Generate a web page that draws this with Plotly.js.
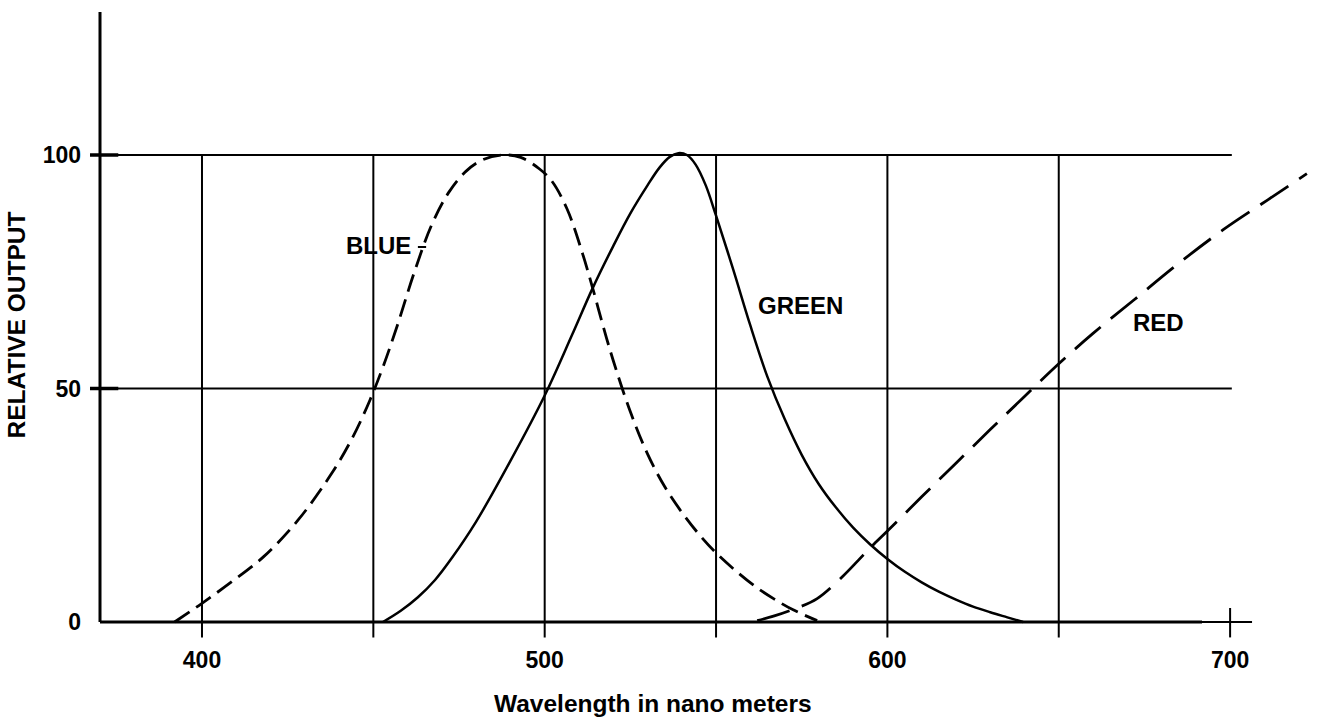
<!DOCTYPE html>
<html>
<head>
<meta charset="utf-8">
<script src="https://cdn.plot.ly/plotly-3.0.1.min.js"></script>
<style>html,body{margin:0;padding:0;background:#fff;}#chart{width:1319px;height:728px;}</style>
</head>
<body>
<div id="chart"></div>
<script>
// ---- data ----
const xTickVals = [400, 500, 600, 700];
const xTickText = ["400", "500", "600", "700"];
const yTickVals = [0, 50, 100];
const yTickText = ["0", "50", "100"];
const gridX = [400, 450, 500, 550, 600, 650];
const gridY = [50, 100];

const blueX = [392, 400, 409, 418, 428, 438, 444, 449, 453, 457, 462, 467, 472, 477, 482, 488, 493, 498.5, 502, 506.5, 511, 514, 517, 520, 525, 530, 535, 540, 545, 550, 556, 562, 567, 572.5, 579.5];
const blueY = [0, 4, 8.8, 14, 21.8, 32, 39.6, 47.5, 55, 63.5, 75, 85, 92, 96.5, 99, 100, 99.5, 97, 94.5, 88.5, 79, 71.5, 63.5, 56, 45, 36, 29, 23.5, 18.8, 14.8, 10.8, 7.3, 4.9, 2.6, 0.3];

const greenX = [452.8, 458, 463, 468, 473, 480, 490, 500, 508, 514, 520, 525, 530, 533.5, 536.5, 539, 541.5, 544, 547, 550, 555, 560, 565, 570, 575, 580, 585, 590, 595, 600, 605, 610, 615, 620, 625, 630, 635, 639.6];
const greenY = [0, 2.4, 5.3, 9.0, 13.8, 21.5, 34.5, 48.5, 61.5, 71.5, 80.5, 87.5, 93.5, 97.3, 99.6, 100.4, 100.0, 98.0, 93.5, 87, 75.5, 63.5, 52.5, 43.5, 35.8, 29.5, 24.5, 20.2, 16.6, 13.5, 10.8, 8.5, 6.5, 4.8, 3.3, 2.1, 1.0, 0];

const redX = [562, 567, 572.5, 579.5, 587, 591.5, 595, 600, 610, 620, 630, 640, 650, 660, 672, 685, 698, 711, 722.4];
const redY = [0.3, 1.3, 2.7, 5.0, 9.8, 13.2, 15.9, 19.5, 26.8, 34.0, 41.2, 48.3, 55.3, 61.8, 69.0, 76.8, 84.0, 90.4, 96.0];

const curveLabels = ["BLUE", "GREEN", "RED"];
const labelX = [451.6, 574.5, 679.0];
const labelY = [80.7, 67.7, 64.2];

// ---- chart ----
const FONT = "Liberation Sans, Arial, Helvetica, sans-serif";
const ink = "#000";

const traces = [
  {x: blueX, y: blueY, mode: "lines", line: {color: ink, width: 2.8, dash: "18px,8px", shape: "spline", smoothing: 1}, hoverinfo: "skip", name: "BLUE"},
  {x: greenX, y: greenY, mode: "lines", line: {color: ink, width: 2.5, shape: "spline", smoothing: 1}, hoverinfo: "skip", name: "GREEN"},
  {x: redX, y: redY, mode: "lines", line: {color: ink, width: 2.8, dash: "34px,13px", shape: "spline", smoothing: 1}, hoverinfo: "skip", name: "RED"}
];

const shapes = [];
// axes
shapes.push({type: "line", xref: "paper", yref: "y", x0: 0, x1: 0, y0: 0, y1: 130.6, line: {color: ink, width: 3}});
shapes.push({type: "line", xref: "x", yref: "y", x0: 370.24, x1: 691.8, y0: 0, y1: 0, line: {color: ink, width: 3}});
shapes.push({type: "line", xref: "x", yref: "y", x0: 691.8, x1: 706.4, y0: 0, y1: 0, line: {color: ink, width: 2}});
// horizontal grid
gridY.forEach(v => shapes.push({type: "line", xref: "x", yref: "y", x0: 370.24, x1: 700.5, y0: v, y1: v, line: {color: ink, width: 2}}));
// y tick dashes across the axis
gridY.forEach(v => shapes.push({type: "line", xref: "paper", yref: "y", x0: -0.0082, x1: 0.015, y0: v, y1: v, line: {color: ink, width: 3.5}}));
// vertical grid (runs through the axis as ticks)
gridX.forEach(v => shapes.push({type: "line", xref: "x", yref: "y", x0: v, x1: v, y0: -3.3, y1: 100, line: {color: ink, width: 2}}));
// tick at 700
shapes.push({type: "line", xref: "x", yref: "y", x0: 700, x1: 700, y0: -3.3, y1: 3.0, line: {color: ink, width: 2}});
// small leader next to BLUE
shapes.push({type: "line", xref: "x", yref: "y", x0: 463.0, x1: 465.4, y0: 80.3, y1: 80.3, line: {color: ink, width: 2}});

const annotations = curveLabels.map((t, i) => ({
  text: t, x: labelX[i], y: labelY[i], xref: "x", yref: "y", showarrow: false,
  xanchor: "center", yanchor: "middle", font: {family: FONT, size: 24, color: ink, weight: "bold"}
}));
annotations.push({
  text: "Wavelength in nano meters", xref: "paper", yref: "paper", x: 0.4537, y: -0.1,
  xanchor: "center", yanchor: "middle", showarrow: false,
  font: {family: FONT, size: 24.5, color: ink, weight: "bold"}
});

const layout = {
  width: 1319, height: 728,
  margin: {l: 100, r: 0, t: 10, b: 88, pad: 0},
  paper_bgcolor: "#fff", plot_bgcolor: "#fff",
  showlegend: false,
  font: {family: FONT, color: ink},
  xaxis: {
    range: [370.24, 725.94], showgrid: false, zeroline: false, showline: false,
    tickvals: xTickVals, ticktext: xTickText, ticks: "", ticklabelstandoff: 4,
    tickfont: {family: FONT, size: 23, color: ink, weight: "bold"}, fixedrange: true
  },
  yaxis: {
    range: [-3.854, 131.05], showgrid: false, zeroline: false, showline: false,
    tickvals: yTickVals, ticktext: yTickText, ticks: "", ticklabelstandoff: 18,
    tickfont: {family: FONT, size: 23, color: ink, weight: "bold"},
    title: {text: "RELATIVE OUTPUT", font: {family: FONT, size: 24.5, color: ink, weight: "bold"}, standoff: 10},
    fixedrange: true
  },
  shapes: shapes,
  annotations: annotations
};

Plotly.newPlot("chart", traces, layout, {staticPlot: true, displayModeBar: false});
</script>
</body>
</html>
